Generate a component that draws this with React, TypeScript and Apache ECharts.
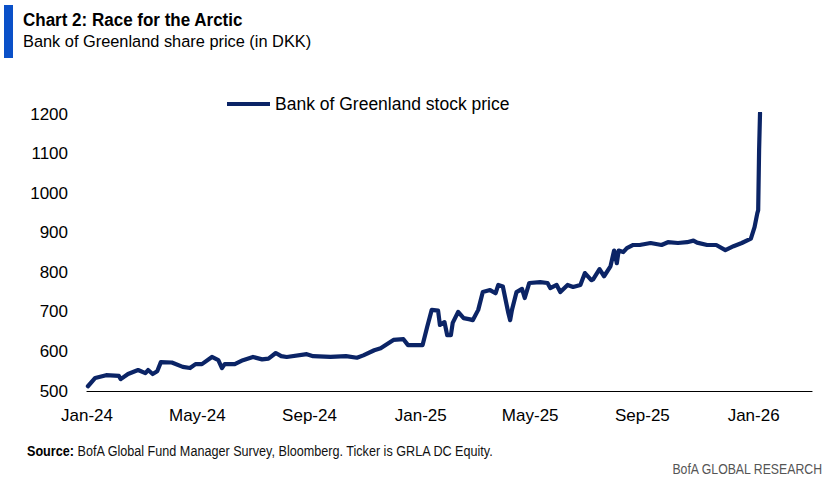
import React, { useEffect, useRef } from "react";
import * as echarts from "echarts";

const dates = [
  "2024-01-02", "2024-01-10", "2024-01-22", "2024-02-05", "2024-02-07", "2024-02-15", "2024-02-26", "2024-03-05",
  "2024-03-08", "2024-03-13", "2024-03-18", "2024-03-22", "2024-04-03", "2024-04-15", "2024-04-23", "2024-04-29",
  "2024-05-06", "2024-05-17", "2024-05-24", "2024-05-28", "2024-05-31", "2024-06-11", "2024-06-20", "2024-07-01",
  "2024-07-11", "2024-07-18", "2024-07-26", "2024-08-01", "2024-08-07", "2024-08-29", "2024-09-05", "2024-09-24",
  "2024-10-11", "2024-10-23", "2024-10-30", "2024-11-11", "2024-11-18", "2024-12-02", "2024-12-13", "2024-12-18",
  "2025-01-03", "2025-01-08", "2025-01-13", "2025-01-20", "2025-01-22", "2025-01-27", "2025-01-30", "2025-02-03",
  "2025-02-05", "2025-02-11", "2025-02-17", "2025-02-24", "2025-02-27", "2025-03-05", "2025-03-10", "2025-03-18",
  "2025-03-24", "2025-03-27", "2025-04-01", "2025-04-07", "2025-04-09", "2025-04-11", "2025-04-16", "2025-04-22",
  "2025-04-25", "2025-04-30", "2025-05-12", "2025-05-20", "2025-05-23", "2025-05-30", "2025-06-03", "2025-06-11",
  "2025-06-17", "2025-06-25", "2025-06-30", "2025-07-07", "2025-07-09", "2025-07-16", "2025-07-21", "2025-07-28",
  "2025-08-01", "2025-08-04", "2025-08-06", "2025-08-11", "2025-08-15", "2025-08-22", "2025-08-29", "2025-09-10",
  "2025-09-22", "2025-09-29", "2025-10-10", "2025-10-20", "2025-10-27", "2025-10-31", "2025-11-11", "2025-11-21",
  "2025-12-01", "2025-12-10", "2025-12-19", "2025-12-29", "2026-01-02", "2026-01-05", "2026-01-06", "2026-01-07",
  "2026-01-08",
];

const prices = [
  512, 533, 540, 538, 530, 543, 553, 545,
  553, 543, 550, 573, 572, 561, 558, 568,
  568, 586, 578, 558, 568, 568, 578, 586,
  580, 582, 596, 588, 586, 593, 588, 586,
  588, 584, 590, 603, 608, 629, 631, 616,
  616, 662, 705, 703, 667, 674, 641, 641,
  672, 700, 684, 681, 679, 705, 750, 755,
  747, 768, 764, 697, 679, 705, 750, 758,
  735, 773, 775, 773, 760, 768, 750, 768,
  763, 768, 798, 780, 782, 808, 790, 815,
  855, 823, 855, 851, 861, 869, 869, 874,
  869, 876, 874, 876, 880, 875, 869, 869,
  856, 866, 874, 885, 914, 949, 957, 1109,
  1202,
];

const xTickDates = ["2024-01-01", "2024-05-01", "2024-09-01", "2025-01-01", "2025-05-01", "2025-09-01", "2026-01-01"];
const xTickLabels = ["Jan-24", "May-24", "Sep-24", "Jan-25", "May-25", "Sep-25", "Jan-26"];
const xMinDate = "2024-01-01";
const xMaxDate = "2026-03-06";
const yMin = 500;
const yMax = 1200;
const yStep = 100;

const seriesName = "Bank of Greenland stock price";
const titleText = "Chart 2: Race for the Arctic";
const subtitleText = "Bank of Greenland share price (in DKK)";
const sourceText = "BofA Global Fund Manager Survey, Bloomberg. Ticker is GRLA DC Equity.";
const brandText = "BofA GLOBAL RESEARCH";

const toTs = (s: string) => {
  const [y, m, d] = s.split("-").map(Number);
  return Date.UTC(y, m - 1, d);
};

const LINE_COLOR = "#0b2466";
const FONT = "'Liberation Sans', Arial, sans-serif";

export default function App() {
  const ref = useRef<HTMLDivElement>(null);

  useEffect(() => {
    if (!ref.current) return;
    const chart = echarts.init(ref.current, undefined, { renderer: "svg" });
    const tickTs = xTickDates.map(toTs);
    const data = dates.map((d, i) => [toTs(d), prices[i]]);

    chart.setOption({
      animation: false,
      backgroundColor: "#ffffff",
      grid: { left: 87, right: 18, top: 114, bottom: 95, containLabel: false },
      legend: {
        data: [{ name: seriesName, icon: "rect" }],
        left: 227,
        top: 94,
        padding: 0,
        itemWidth: 43,
        itemHeight: 4,
        textStyle: { fontFamily: FONT, fontSize: 17.5, color: "#000000", lineHeight: 20 },
        selectedMode: false,
      },
      xAxis: {
        type: "value",
        min: toTs(xMinDate),
        max: toTs(xMaxDate),
        scale: true,
        splitLine: { show: false },
        axisTick: { show: false },
        axisLine: { show: true, onZero: false, lineStyle: { color: "#000000", width: 1.2 } },
        axisLabel: {
          customValues: tickTs,
          formatter: (v: number) => {
            let best = 0;
            for (let i = 0; i < tickTs.length; i++) {
              if (Math.abs(tickTs[i] - v) < Math.abs(tickTs[best] - v)) best = i;
            }
            return xTickLabels[best];
          },
          fontFamily: FONT,
          fontSize: 17,
          color: "#000000",
          margin: 16,
          hideOverlap: false,
        },
      },
      yAxis: {
        type: "value",
        min: yMin,
        max: yMax,
        interval: yStep,
        splitLine: { show: false },
        axisLine: { show: false },
        axisTick: { show: false },
        axisLabel: {
          fontFamily: FONT,
          fontSize: 17,
          color: "#000000",
          margin: 19,
          formatter: (v: number) => String(v),
        },
      },
      series: [
        {
          name: seriesName,
          type: "line",
          data,
          showSymbol: false,
          symbol: "none",
          color: LINE_COLOR,
          lineStyle: { color: LINE_COLOR, width: 4.2, join: "round", cap: "round" },
          itemStyle: { color: LINE_COLOR },
        },
      ],
      graphic: [
        { type: "rect", shape: { x: 4, y: 5, width: 9, height: 53 }, style: { fill: "#0a50c8" } },
        {
          type: "text",
          x: 23,
          y: 11,
          scaleX: 0.945,
          style: { text: titleText, font: `bold 18px ${FONT}`, fill: "#000000", verticalAlign: "top", align: "left" },
        },
        {
          type: "text",
          x: 23,
          y: 33,
          scaleX: 0.963,
          style: { text: subtitleText, font: `17px ${FONT}`, fill: "#000000", verticalAlign: "top", align: "left" },
        },
        {
          type: "text",
          x: 27,
          y: 444,
          scaleX: 0.871,
          style: {
            text: `{b|Source:} ${sourceText}`,
            font: `14.5px ${FONT}`,
            fill: "#111111",
            verticalAlign: "top",
            align: "left",
            rich: {
              b: { fontWeight: "bold", fontFamily: FONT, fontSize: 14.5, fill: "#000000" },
            },
          },
        },
        {
          type: "text",
          x: 822,
          y: 462,
          scaleX: 0.847,
          style: { text: brandText, font: `14.5px ${FONT}`, fill: "#555555", verticalAlign: "top", align: "right" },
        },
      ],
    });

    return () => chart.dispose();
  }, []);

  return (
    <div
      ref={ref}
      style={{ position: "fixed", left: 0, top: 0, width: 830, height: 486, background: "#fff" }}
    />
  );
}
